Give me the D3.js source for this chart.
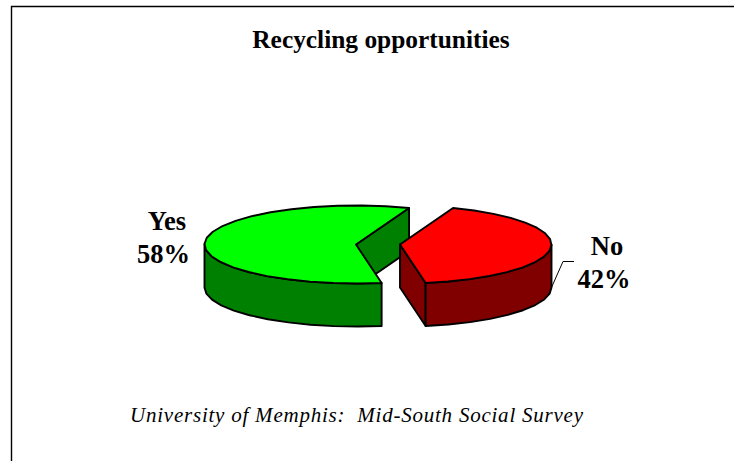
<!DOCTYPE html>
<html><head><meta charset="utf-8">
<script src="https://cdn.jsdelivr.net/npm/d3@7"></script>
<style>html,body{margin:0;padding:0;background:#fff}svg{display:block}</style>
</head><body><div id="c"></div>
<script>
const categories = ["No", "Yes"];
const shares = [41.6, 58.4];
const percentLabels = ["42%", "58%"];
const topColors = ["#ff0000", "#00ff00"];
const sideColors = ["#800000", "#008000"];
const titleText = "Recycling opportunities";
const sourceText = "University of Memphis:\u00a0\u00a0Mid-South Social Survey";

const W = 734, H = 461;
const rx = 151.5, ry = 39, depth = 43;
const centers = [[400, 244.5], [356, 244.5]];
const startDeg = 20.5;
const svg = d3.select("#c").append("svg").attr("width", W).attr("height", H);
const serif = "'Liberation Serif','Times New Roman',serif";

svg.append("path").attr("d", `M11.5,${H}V6.5H${W}`).attr("fill", "none").attr("stroke", "#000").attr("stroke-width", 1.4);

const arcs = d3.pie().sort(null).value(d => d)
  .startAngle(startDeg * Math.PI / 180).endAngle((startDeg + 360) * Math.PI / 180)(shares);
const line = d3.line();
const px = (c, a, dz = 0) => [c[0] + rx * Math.sin(a), c[1] - ry * Math.cos(a) + dz];

function sample(c, a0, a1, dz, step) {
  const n = Math.max(1, Math.round(Math.abs(a1 - a0) / step));
  return d3.range(n + 1).map(i => px(c, a0 + (a1 - a0) * i / n, dz));
}
const step = 9 * Math.PI / 180;
const G = svg.append("g").attr("stroke", "#000").attr("stroke-width", 1.9).attr("stroke-linejoin", "round");

// Yes is drawn first: the No slice sits in front of its cut face
[1, 0].forEach(i => {
  const d = arcs[i];
  const c = centers[i];
  const g = G.append("g");
  // cut face that stays visible behind the top of the slice
  const edge = px(c, d.endAngle);
  const apex = [c[0], c[1]];
  g.append("path").attr("fill", sideColors[i])
    .attr("d", line([apex, edge, [edge[0], edge[1] + depth], [apex[0], apex[1] + depth]]) + "Z");
  // outer wall (front half only)
  const wallFrom = i === 0 ? Math.PI / 2 : d.startAngle;
  const wallTo = i === 0 ? d.endAngle : 3 * Math.PI / 2;
  const upper = sample(c, wallFrom, wallTo, 0, step);
  const lower = sample(c, wallTo, wallFrom, depth, step);
  g.append("path").attr("fill", sideColors[i]).attr("d", line(upper.concat(lower)) + "Z");
  // top face
  g.append("path").attr("fill", topColors[i])
    .attr("d", line([apex].concat(sample(c, d.startAngle, d.endAngle, 0, step))) + "Z");
});

// leader line for the No label
const lead = px(centers[0], 103 * Math.PI / 180, depth);
svg.append("path").attr("fill", "none").attr("stroke", "#000").attr("stroke-width", 1)
  .attr("d", line([[574, 261.5], [563, 261.5], lead]));

const text = (s, x, y, size, extra = {}) => svg.append("text").text(s).attr("x", x).attr("y", y)
  .attr("font-family", serif).attr("font-size", size).attr("fill", "#000")
  .attr("text-anchor", extra.anchor || "middle").attr("font-weight", extra.weight || "bold")
  .attr("font-style", extra.style || "normal").attr("textLength", extra.len || null)
  .attr("lengthAdjust", extra.len ? "spacing" : null);

text(titleText, 381, 47.5, 25.4);
text(sourceText, 356.5, 422, 21, { weight: "normal", style: "italic", len: 453 });
text(categories[1], 167, 230, 26.5);
text(percentLabels[1], 163.5, 263, 26.5);
text(categories[0], 607, 255, 26.5);
text(percentLabels[0], 604, 288, 26.5);
</script></body></html>
